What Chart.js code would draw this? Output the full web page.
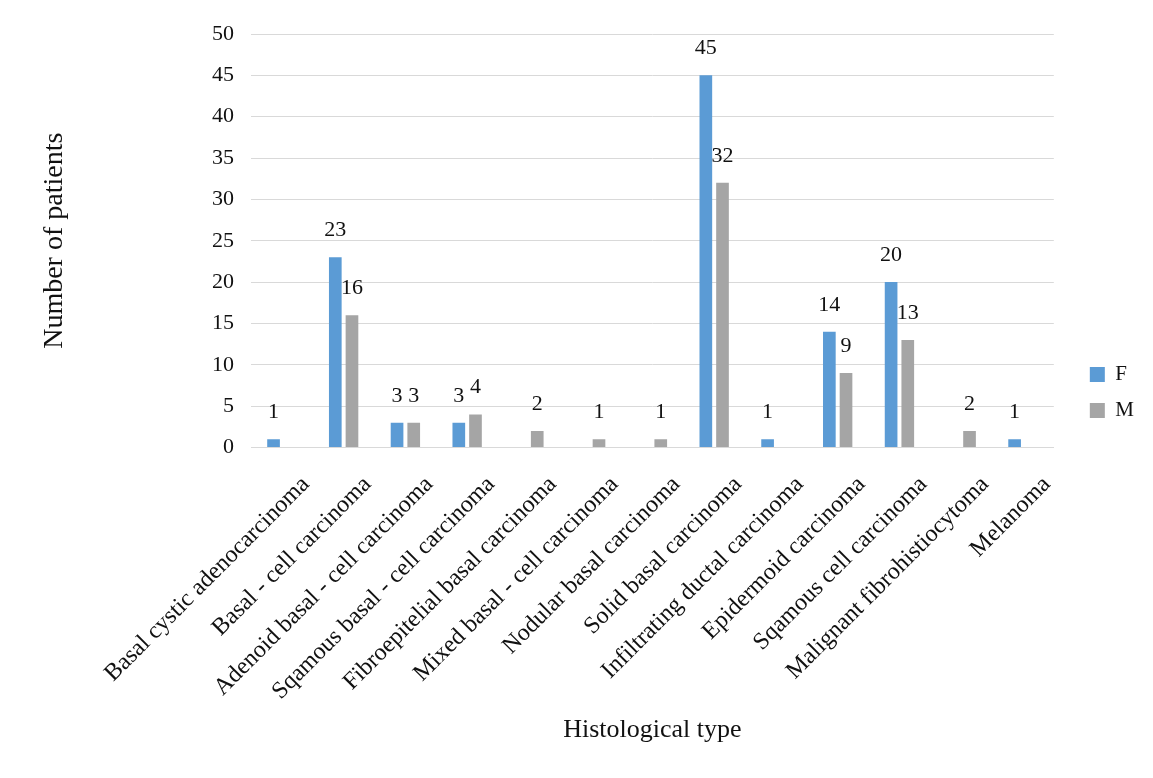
<!DOCTYPE html>
<html>
<head>
<meta charset="utf-8">
<title>Histological type by sex</title>
<script src="https://cdn.jsdelivr.net/npm/chart.js@4/dist/chart.umd.min.js"></script>
<style>
  html, body { margin: 0; padding: 0; background: #ffffff; }
  #wrap { width: 1153px; height: 778px; }
</style>
</head>
<body>
<div id="wrap"><canvas id="chart" width="1153" height="778"></canvas></div>
<script>
// Histological types (x categories)
const categories = [
  'Basal cystic adenocarcinoma',
  'Basal - cell carcinoma',
  'Adenoid basal - cell carcinoma',
  'Sqamous basal - cell carcinoma',
  'Fibroepitelial basal carcinoma',
  'Mixed basal - cell carcinoma',
  'Nodular basal carcinoma',
  'Solid basal carcinoma',
  'Infiltrating ductal carcinoma',
  'Epidermoid carcinoma',
  'Sqamous cell carcinoma',
  'Malignant fibrohistiocytoma',
  'Melanoma'
];

// Patient counts per sex (null = no cases)
const femaleCounts = [1, 23, 3, 3, null, null, null, 45, 1, 14, 20, null, 1];
const maleCounts   = [null, 16, 3, 4, 2, 1, 1, 32, null, 9, 13, 2, null];

const seriesNames = ['F', 'M'];

// Value axis range
const yMin = 0;
const yMax = 50;
const yStep = 5;

const SERIF = '"Liberation Serif", "Times New Roman", Times, serif';
const TEXT = '#111111';
const GRID = '#d9d9d9';

// Writes each bar's count just above it
const valueLabels = {
  id: 'valueLabels',
  afterDatasetsDraw(chart) {
    const ctx = chart.ctx;
    ctx.save();
    ctx.font = '22px ' + SERIF;
    ctx.fillStyle = TEXT;
    ctx.textAlign = 'center';
    ctx.textBaseline = 'alphabetic';
    chart.data.datasets.forEach((ds, di) => {
      const meta = chart.getDatasetMeta(di);
      meta.data.forEach((bar, i) => {
        const v = ds.data[i];
        if (v === null || v === undefined) return;
        ctx.fillText(String(v), bar.x, bar.y - 21);
      });
    });
    ctx.restore();
  }
};

// Leaves a gap between the plot and the legend column
const legendGap = {
  id: 'legendGap',
  afterLayout(chart) {
    const lg = chart.legend;
    if (lg) { lg.left += 21; lg.right += 21; }
  }
};

new Chart(document.getElementById('chart'), {
  type: 'bar',
  data: {
    labels: categories,
    datasets: [
      {
        label: seriesNames[0],
        data: femaleCounts,
        backgroundColor: '#5b9bd5',
        borderWidth: 0,
        categoryPercentage: 0.54,
        barPercentage: 0.76
      },
      {
        label: seriesNames[1],
        data: maleCounts,
        backgroundColor: '#a5a5a5',
        borderWidth: 0,
        categoryPercentage: 0.54,
        barPercentage: 0.76
      }
    ]
  },
  options: {
    responsive: false,
    animation: false,
    devicePixelRatio: 1,
    layout: { padding: { left: 0, right: 30, top: 34, bottom: 27 } },
    plugins: {
      legend: {
        position: 'right',
        labels: {
          boxWidth: 15,
          boxHeight: 15,
          padding: 15,
          color: TEXT,
          font: { family: SERIF, size: 21 }
        }
      },
      tooltip: { enabled: false }
    },
    scales: {
      x: {
        grid: { display: false },
        border: { display: true, color: GRID, width: 1 },
        ticks: {
          autoSkip: false,
          minRotation: 45,
          maxRotation: 45,
          padding: 15,
          labelOffset: 24,
          color: TEXT,
          font: { family: SERIF, size: 24 }
        },
        title: {
          display: true,
          text: 'Histological type',
          color: TEXT,
          font: { family: SERIF, size: 26 },
          padding: { top: 0, bottom: 5 }
        },
        afterFit(scale) { scale.height = 303.5; }
      },
      y: {
        min: yMin,
        max: yMax,
        ticks: {
          stepSize: yStep,
          padding: 17,
          color: TEXT,
          font: { family: SERIF, size: 22 }
        },
        grid: { color: GRID, lineWidth: 1, drawTicks: false },
        border: { display: false },
        title: {
          display: true,
          text: 'Number of patients',
          color: TEXT,
          font: { family: SERIF, size: 28 },
          padding: { top: 38, bottom: 0 }
        },
        afterFit(scale) { scale.width = 251; }
      }
    }
  },
  plugins: [valueLabels, legendGap]
});
</script>
</body>
</html>
